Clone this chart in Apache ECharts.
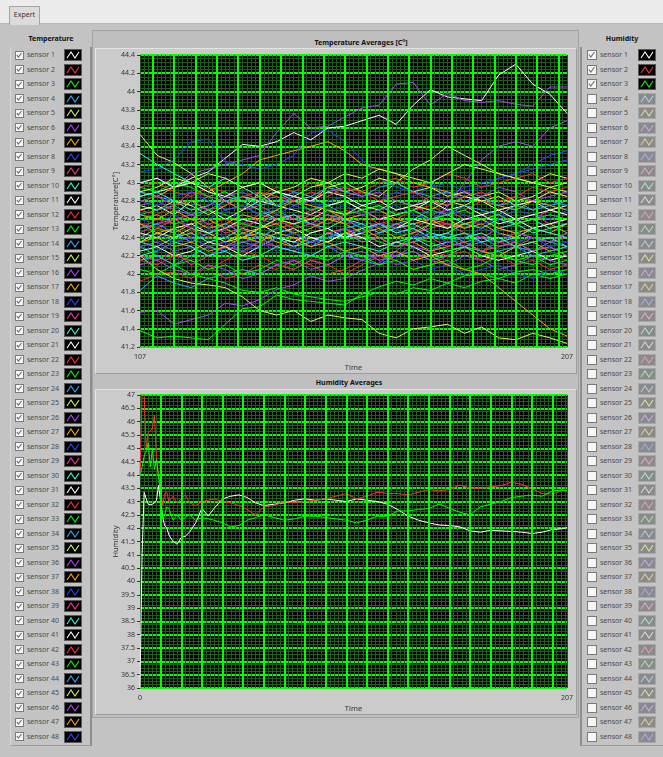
<!DOCTYPE html>
<html><head><meta charset="utf-8">
<script src="https://cdn.jsdelivr.net/npm/echarts@6/dist/echarts.min.js"></script>
<style>
body{margin:0;width:663px;height:757px;overflow:hidden;background:#c3c3c3;font-family:'Noto Sans',sans-serif;position:relative}
.a{position:absolute;box-sizing:border-box}
.t{font-size:7px;font-weight:bold;color:#111;white-space:nowrap}
.row{position:absolute;height:14px;line-height:14px;font-size:7px;color:#4a4a4a;white-space:nowrap}
</style></head><body>
<div class="a" style="left:0;top:0;width:663px;height:24px;background:#ececec;border-bottom:1px solid #b8b8b8"></div>
<div class="a" style="left:9px;top:6px;width:31px;height:19px;background:#dcdcdc;border:1px solid #a5a5a5;border-bottom:none;font-size:7px;line-height:16px;text-align:center;color:#333">Expert</div>
<div class="a t" style="left:10px;top:34px;width:82px;text-align:center">Temperature</div>
<div class="a t" style="left:582px;top:34px;width:80px;text-align:center">Humidity</div>
<div class="a" id="leftBox" style="left:10px;top:47px;width:82px;height:699px;background:#c4c4c4;border-left:1px solid #d8d8d8;border-right:2px solid #8e8e8e;border-bottom:1px solid #9a9a9a"></div>
<div class="a" id="rightBox" style="left:580px;top:47px;width:83px;height:699px;background:#c4c4c4;border-left:2px solid #8e8e8e;border-bottom:1px solid #9a9a9a"></div>
<div class="a" style="left:92px;top:30px;width:487px;height:688px;background:#bfbfbf;border:1px solid #a2a2a2"></div>
<div class="a" style="left:95px;top:48px;width:482px;height:326px;background:#cbcbcb;border-top:1px solid #e4e4e4;border-left:1px solid #e4e4e4;border-right:1px solid #9c9c9c;border-bottom:1px solid #9c9c9c"></div>
<div class="a" style="left:95px;top:389px;width:482px;height:326px;background:#cbcbcb;border-top:1px solid #e4e4e4;border-left:1px solid #e4e4e4;border-right:1px solid #9c9c9c;border-bottom:1px solid #9c9c9c"></div>
<div class="a t" style="left:261px;top:38px;width:200px;text-align:center">Temperature Averages [C°]</div>
<div class="a t" style="left:249px;top:378px;width:200px;text-align:center">Humidity Averages</div>
<div id="rows"></div>
<div id="chart" class="a" style="left:0;top:0;width:663px;height:757px;z-index:5"></div>
<script>
// ---------- data ----------
const TEMP_X = [107,111,115,119,123,127,131,135,139,143,147,151,155,159,163,167,171,175,179,183,187,191,195,199,203,207];
const temp01 = [42.85,42.9,42.95,43.05,43.12,43.27,43.42,43.4,43.45,43.55,43.47,43.6,43.62,43.68,43.74,43.64,43.85,44.02,43.94,43.92,43.9,44.18,44.3,44.08,43.97,43.76];
const temp02 = [41.92,42.0,42.02,41.95,42.1,41.95,42.0,42.1,42.05,42.15,42.1,42.0,42.05,42.15,42.2,42.1,42.15,42.25,42.2,42.3,42.25,42.35,42.3,42.4,42.35,42.45];
const temp03 = [41.38,41.3,41.32,41.3,41.28,41.45,41.62,41.64,41.77,41.72,41.7,41.68,41.66,41.78,41.86,41.92,41.88,41.95,41.9,41.98,42.0,41.95,42.02,42.05,42.0,42.05];
const temp04 = [41.82,41.98,41.9,41.85,41.95,42.0,42.05,42.0,42.1,42.05,42.15,42.1,42.2,42.15,42.1,42.2,42.25,42.15,42.2,42.3,42.25,42.2,42.3,42.25,42.35,42.3];
const temp05 = [43.53,43.3,43.22,43.1,42.95,42.8,42.7,42.9,42.75,42.85,42.8,42.95,43.0,42.9,42.85,43.0,43.15,43.25,43.4,43.3,43.2,43.1,43.05,43.0,43.1,43.05];
const temp06 = [43.0,43.05,42.95,43.1,43.15,43.2,43.25,43.3,43.55,43.76,43.6,43.62,43.72,43.82,43.85,44.08,44.1,43.85,43.98,43.9,43.88,43.9,43.86,43.84,44.05,44.05];
const temp07 = [42.9,42.85,42.95,43.0,42.9,43.0,43.1,43.25,43.3,43.35,43.4,43.45,43.35,43.2,43.15,43.1,43.0,42.95,42.9,42.85,42.8,42.75,42.7,42.8,42.75,42.7];
const temp08 = [43.12,43.15,43.25,43.45,43.48,43.22,43.2,43.15,43.2,43.3,43.55,43.58,43.45,43.25,43.05,42.95,42.9,43.0,42.85,42.95,43.0,43.05,43.1,43.15,43.2,43.25];
const temp09 = [42.2,42.15,42.25,42.1,42.2,42.3,42.25,42.35,42.3,42.4,42.35,42.45,42.5,42.4,42.45,42.55,42.5,42.6,42.55,42.5,42.6,42.65,42.55,42.6,42.7,42.65];
const temp10 = [43.32,43.2,43.1,43.0,42.95,43.05,42.95,42.85,42.9,42.8,42.85,42.75,42.8,42.7,42.75,42.65,42.7,42.6,42.65,42.55,42.6,42.5,42.55,42.6,42.5,42.55];
const temp11 = [42.7,42.75,42.65,42.8,42.7,42.6,42.7,42.8,42.75,42.7,42.65,42.75,42.8,42.7,42.6,42.65,42.7,42.8,42.75,42.85,42.8,42.7,42.75,42.8,42.7,42.75];
const temp12 = [42.5,42.6,42.55,42.45,42.55,42.6,42.5,42.4,42.5,42.55,42.65,42.6,42.7,42.65,42.55,42.6,42.7,42.75,42.65,42.7,42.8,42.75,42.85,42.8,42.9,42.85];
const temp13 = [42.3,42.2,42.1,42.0,41.95,41.9,41.82,41.8,41.85,41.78,41.75,41.72,41.7,41.75,41.8,41.78,41.85,41.82,41.9,41.85,41.92,41.95,41.9,42.0,41.95,42.0];
const temp14 = [42.9,42.85,42.8,42.75,42.85,42.7,42.75,42.65,42.7,42.6,42.55,42.65,42.6,42.5,42.55,42.45,42.5,42.4,42.45,42.35,42.4,42.3,42.35,42.25,42.3,42.2];
const temp15 = [42.2,42.05,41.95,41.9,41.88,41.85,41.75,41.6,41.55,41.6,41.48,41.55,41.52,41.5,41.35,41.3,41.4,41.42,41.45,41.35,41.42,41.3,41.28,41.35,41.3,41.24];
const temp16 = [41.58,41.6,41.45,41.5,41.55,41.68,41.65,41.72,41.83,41.88,41.98,41.92,41.95,42.04,42.12,42.25,42.4,42.55,42.75,43.0,43.25,43.4,43.45,43.4,43.6,43.68];
const temp17 = [42.4,42.5,42.45,42.55,42.6,42.5,42.4,42.45,42.35,42.3,42.4,42.35,42.45,42.5,42.4,42.3,42.35,42.25,42.3,42.35,42.25,42.2,42.3,42.35,42.25,42.3];
const temp18 = [42.6,42.55,42.65,42.5,42.6,42.7,42.6,42.55,42.65,42.75,42.7,42.8,42.85,42.75,42.8,42.9,42.85,42.95,43.0,42.9,42.95,43.05,43.1,43.2,43.3,43.35];
const temp19 = [42.8,42.85,42.75,42.9,42.85,42.8,42.7,42.75,42.65,42.6,42.7,42.65,42.55,42.6,42.5,42.55,42.45,42.5,42.55,42.45,42.4,42.5,42.45,42.4,42.35,42.4];
const temp20 = [42.35,42.3,42.4,42.45,42.35,42.4,42.5,42.45,42.4,42.3,42.35,42.45,42.4,42.5,42.55,42.45,42.5,42.4,42.45,42.55,42.5,42.6,42.55,42.45,42.5,42.55];
const temp21 = [42.45,42.4,42.5,42.55,42.45,42.5,42.6,42.55,42.45,42.5,42.4,42.35,42.45,42.4,42.3,42.35,42.3,42.2,42.25,42.3,42.2,42.15,42.2,42.25,42.15,42.2];
const temp22 = [42.95,43.0,42.9,42.85,42.95,42.9,42.8,42.85,42.95,42.9,43.0,42.95,42.85,42.9,43.0,43.05,42.95,43.0,43.1,43.05,42.95,43.0,43.05,43.1,43.0,43.05];
const temp23 = [42.6,42.65,42.55,42.6,42.7,42.65,42.55,42.5,42.6,42.55,42.45,42.5,42.4,42.45,42.35,42.3,42.4,42.35,42.25,42.3,42.2,42.25,42.15,42.2,42.1,42.15];
const temp24 = [42.15,42.2,42.1,42.2,42.3,42.25,42.35,42.3,42.4,42.35,42.3,42.4,42.45,42.35,42.4,42.3,42.35,42.45,42.4,42.3,42.35,42.25,42.3,42.2,42.25,42.3];
const temp25 = [42.75,42.7,42.8,42.75,42.65,42.75,42.85,42.8,42.9,42.85,42.95,43.0,42.9,42.95,43.05,43.0,42.9,42.95,42.85,42.9,42.8,42.85,42.75,42.8,42.9,42.85];
const temp26 = [42.3,42.35,42.25,42.3,42.2,42.3,42.35,42.4,42.3,42.25,42.35,42.3,42.2,42.25,42.15,42.2,42.25,42.15,42.1,42.2,42.15,42.05,42.1,42.2,42.15,42.1];
const temp27 = [42.65,42.6,42.7,42.6,42.5,42.55,42.65,42.6,42.7,42.8,42.75,42.7,42.6,42.65,42.7,42.6,42.55,42.6,42.5,42.55,42.6,42.5,42.45,42.5,42.55,42.45];
const temp28 = [42.4,42.45,42.35,42.4,42.5,42.4,42.3,42.35,42.25,42.3,42.2,42.3,42.25,42.15,42.2,42.1,42.15,42.05,42.1,42.0,42.05,42.1,42.0,41.95,42.05,42.0];
const temp29 = [42.55,42.5,42.6,42.65,42.55,42.45,42.5,42.6,42.55,42.65,42.6,42.55,42.65,42.7,42.6,42.7,42.75,42.65,42.7,42.6,42.65,42.7,42.6,42.65,42.55,42.6];
const temp30 = [42.85,42.9,42.8,42.7,42.75,42.85,42.8,42.7,42.6,42.65,42.55,42.5,42.6,42.55,42.45,42.5,42.55,42.45,42.4,42.45,42.35,42.4,42.3,42.35,42.4,42.3];
const temp31 = [42.25,42.3,42.2,42.25,42.35,42.3,42.2,42.3,42.4,42.35,42.45,42.5,42.4,42.45,42.55,42.5,42.6,42.55,42.5,42.6,42.65,42.55,42.6,42.5,42.55,42.6];
const temp32 = [42.15,42.1,42.2,42.15,42.05,42.15,42.25,42.2,42.1,42.05,42.15,42.1,42.0,42.1,42.2,42.15,42.05,42.1,42.2,42.25,42.15,42.2,42.1,42.15,42.05,42.1];
const temp33 = [42.95,42.9,43.0,42.95,42.85,42.9,42.8,42.85,42.75,42.8,42.7,42.75,42.65,42.7,42.75,42.65,42.7,42.6,42.65,42.7,42.6,42.65,42.55,42.6,42.65,42.6];
const temp34 = [42.65,42.7,42.75,42.65,42.7,42.8,42.85,42.75,42.8,42.9,42.85,42.95,42.9,42.85,42.95,43.0,42.9,42.85,42.9,42.8,42.85,42.75,42.8,42.7,42.75,42.8];
const temp35 = [42.35,42.45,42.4,42.5,42.45,42.35,42.4,42.5,42.6,42.55,42.6,42.7,42.65,42.75,42.7,42.8,42.75,42.7,42.8,42.75,42.85,42.9,42.8,42.85,42.95,42.9];
const temp36 = [42.75,42.8,42.7,42.65,42.75,42.85,42.9,42.8,42.85,42.75,42.8,42.9,42.95,42.85,42.9,42.8,42.75,42.85,42.8,42.9,42.85,42.95,42.9,42.8,42.85,42.9];
const temp37 = [42.55,42.45,42.5,42.4,42.3,42.35,42.45,42.5,42.55,42.45,42.5,42.6,42.55,42.45,42.5,42.4,42.45,42.55,42.6,42.5,42.55,42.45,42.4,42.5,42.45,42.55];
const temp38 = [42.8,42.75,42.85,42.9,42.8,42.7,42.75,42.65,42.75,42.85,42.8,42.7,42.75,42.65,42.7,42.75,42.65,42.6,42.7,42.65,42.55,42.6,42.7,42.65,42.6,42.7];
const temp39 = [42.45,42.55,42.6,42.5,42.4,42.5,42.55,42.65,42.6,42.5,42.55,42.45,42.5,42.35,42.4,42.3,42.35,42.4,42.3,42.35,42.25,42.3,42.35,42.25,42.3,42.2];
const temp40 = [42.2,42.25,42.35,42.3,42.2,42.25,42.15,42.2,42.3,42.25,42.2,42.3,42.35,42.3,42.25,42.35,42.4,42.3,42.35,42.4,42.45,42.35,42.4,42.5,42.45,42.4];
const temp41 = [43.0,43.05,42.95,43.0,42.9,42.85,42.95,43.0,42.9,42.85,42.8,42.9,42.85,42.75,42.8,42.7,42.75,42.8,42.7,42.75,42.65,42.7,42.6,42.65,42.7,42.65];
const temp42 = [42.7,42.65,42.75,42.8,42.7,42.75,42.85,42.9,42.85,42.8,42.9,42.85,42.95,42.9,42.8,42.85,42.9,42.8,42.75,42.85,42.9,42.8,42.85,42.95,42.9,42.95];
const temp43 = [42.05,42.0,42.1,42.15,42.05,42.1,42.0,42.05,42.15,42.1,42.2,42.15,42.25,42.2,42.1,42.15,42.05,42.1,42.15,42.05,42.1,42.2,42.15,42.1,42.2,42.25];
const temp44 = [42.5,42.55,42.45,42.35,42.45,42.55,42.45,42.4,42.5,42.45,42.35,42.4,42.5,42.55,42.45,42.55,42.6,42.7,42.65,42.75,42.7,42.65,42.75,42.7,42.8,42.75];
const temp45 = [42.9,42.95,43.05,43.0,43.1,43.05,42.95,43.0,42.9,42.95,43.05,43.0,43.1,43.05,43.15,43.1,43.05,43.0,43.1,43.2,43.15,43.1,43.05,43.0,42.95,43.0];
const temp46 = [42.1,42.15,42.05,42.0,42.1,42.05,41.95,42.0,42.1,42.15,42.05,42.1,42.2,42.15,42.25,42.2,42.3,42.25,42.35,42.3,42.4,42.35,42.45,42.4,42.35,42.45];
const temp47 = [42.35,42.4,42.3,42.35,42.25,42.3,42.4,42.35,42.45,42.4,42.3,42.35,42.25,42.3,42.2,42.25,42.15,42.2,42.1,42.05,42.0,41.85,41.7,41.55,41.4,41.32];
const temp48 = [42.3,42.25,42.35,42.4,42.3,42.35,42.25,42.3,42.4,42.45,42.35,42.4,42.5,42.45,42.55,42.5,42.4,42.45,42.35,42.4,42.5,42.45,42.35,42.4,42.3,42.35];

const HUM_X = [0,1,2,3,4,5,6,7,8,9,10,11,12,13,14,16,18,20,22,24,27,30,33,36,40,44,48,52,56,60,65,70,75,80,85,90,95,100,105,110,115,120,125,130,135,140,145,150,155,160,165,170,175,180,185,190,195,200,205,207];
const hum1 = [36.0,41.0,43.35,43.1,42.9,42.88,42.9,42.95,43.05,43.6,43.0,42.4,42.1,42.0,41.75,41.5,41.4,41.65,41.7,41.85,42.2,42.75,42.45,42.75,43.1,43.2,43.25,43.15,42.95,42.85,42.9,42.95,43.05,43.1,43.05,43.1,43.05,43.0,43.1,43.05,43.0,42.9,42.7,42.45,42.3,42.2,42.12,42.1,42.05,41.9,41.85,41.92,41.9,41.88,41.85,41.8,41.85,41.95,41.98,42.02];
const hum2 = [44.0,47.0,47.0,45.0,45.6,45.65,45.75,46.25,44.6,44.0,43.5,42.85,43.3,43.35,43.0,43.2,42.95,43.1,43.25,42.95,42.85,43.0,43.05,43.1,43.0,42.95,42.85,42.7,42.5,42.8,42.85,43.0,42.95,43.0,43.05,43.1,43.2,43.3,43.1,43.2,43.35,43.3,43.3,43.25,43.35,43.45,43.4,43.45,43.62,43.5,43.5,43.55,43.6,43.72,43.65,43.48,43.3,43.28,43.42,43.38];
const hum3 = [43.95,44.3,44.7,44.9,45.2,44.3,45.0,44.2,44.6,43.9,43.3,42.35,42.5,42.8,42.75,42.3,42.5,42.3,42.4,42.5,42.3,42.4,42.35,42.3,42.2,42.05,42.1,42.3,42.4,42.5,42.4,42.3,42.35,42.45,42.45,42.4,42.35,42.3,42.2,42.3,42.45,42.45,42.65,42.65,42.7,42.74,42.9,42.75,42.6,42.5,42.8,42.9,43.0,43.15,43.2,43.24,43.2,43.4,43.43,43.4];

// ---------- style ----------
const SENSOR_COLORS = ['#ffffff','#ff3333','#00ff00','#33aaff','#ccff55','#b044ff','#ffaa00','#3344ff','#ff3399','#33ffdd'];
const PALE_COLORS = ['#d8d8d8','#e0a0a8','#a8e0a8','#a8d0e8','#dcdca0','#c8a8e8','#e0cc98','#a8a8e8','#e0a8c8','#a8e0d8'];
const MAJOR = '#00ff00', MINOR = '#1d5e1d', AXISTXT = '#333';
const TEMP_SERIES = [temp01,temp02,temp03,temp04,temp05,temp06,temp07,temp08,temp09,temp10,temp11,temp12,temp13,temp14,temp15,temp16,temp17,temp18,temp19,temp20,temp21,temp22,temp23,temp24,temp25,temp26,temp27,temp28,temp29,temp30,temp31,temp32,temp33,temp34,temp35,temp36,temp37,temp38,temp39,temp40,temp41,temp42,temp43,temp44,temp45,temp46,temp47,temp48];
const HUM_SERIES = [hum1,hum2,hum3];

// ---------- side lists ----------
const rows = document.getElementById('rows');
function icon(i, active){
  const bg = active ? '#000' : '#8a8a8a';
  const col = active ? SENSOR_COLORS[i % 10] : PALE_COLORS[i % 10];
  return `<svg width="18" height="12" style="position:absolute;top:1px"><rect x="0.5" y="0.5" width="17" height="11" fill="${bg}" stroke="${active?'#5a5a5a':'#a8a8a8'}"/><polyline points="3,9 7,3 11,9 15,3" fill="none" stroke="${col}" stroke-width="1.1"/></svg>`;
}
function box(size, checked){
  const chk = checked ? `<polyline points="1.8,${size/2} ${size*0.42},${size-2} ${size-1.5},2" fill="none" stroke="#6a6a6a" stroke-width="1.1"/>` : '';
  return `<svg width="${size+1}" height="${size+1}" style="position:absolute;top:${(14-size-1)/2}px"><rect x="0.5" y="0.5" width="${size}" height="${size}" fill="#f6f6f6" stroke="#7a7a7a"/>${chk}</svg>`;
}
let html = '';
for (let i = 0; i < 48; i++) {
  const cy = 55 + i * 14.5;
  html += `<div class="row" style="left:15px;top:${cy-7}px;width:75px">${box(8,true)}<span style="position:absolute;left:12px">sensor ${i+1}</span><span style="position:absolute;left:49px;top:0">${icon(i,true)}</span></div>`;
  const act = i < 3;
  html += `<div class="row" style="left:587px;top:${cy-7}px;width:75px">${box(9,act)}<span style="position:absolute;left:13px">sensor ${i+1}</span><span style="position:absolute;left:51px;top:0">${icon(i,act)}</span></div>`;
}
rows.innerHTML = html;

// ---------- chart ----------
const chart = echarts.init(document.getElementById('chart'), null, {renderer:'canvas'});
const major1 = []; for (let v = 110; v < 207; v += 5) major1.push({xAxis: v});
const major2 = []; for (let v = 10; v < 207; v += 10) major2.push({xAxis: v});
function gridLines(xi, data){
  return {type:'line', xAxisIndex:xi, yAxisIndex:xi, data:[], silent:true, z:1,
    markLine:{silent:true, animation:false, symbol:['none','none'], label:{show:false},
      lineStyle:{color:MAJOR, width:2, type:'solid'}, emphasis:{disabled:true}, data:data}};
}
const series = [gridLines(0, major1), gridLines(1, major2)];
TEMP_SERIES.forEach((arr, i) => {
  series.push({type:'line', name:'sensor '+(i+1), xAxisIndex:0, yAxisIndex:0, silent:true, z:3,
    showSymbol:false, symbol:'none', lineStyle:{width:1, color:SENSOR_COLORS[i%10]},
    data: TEMP_X.map((x, k) => [x, arr[k]])});
});
HUM_SERIES.forEach((arr, i) => {
  series.push({type:'line', name:'sensor '+(i+1), xAxisIndex:1, yAxisIndex:1, silent:true, z:3,
    showSymbol:false, symbol:'none', lineStyle:{width:1, color:SENSOR_COLORS[i%10]},
    data: HUM_X.map((x, k) => [x, arr[k]])});
});
const lbl = {fontSize:7, color:AXISTXT, fontFamily:'Noto Sans'};
const nameStyle = {fontSize:7.5, color:AXISTXT, fontFamily:'Noto Sans'};
chart.setOption({
  animation:false,
  grid:[
    {left:140, top:55, width:427, height:292, show:true, backgroundColor:'#000', borderWidth:0},
    {left:140, top:395, width:427, height:293, show:true, backgroundColor:'#000', borderWidth:0}
  ],
  xAxis:[
    {gridIndex:0, type:'value', min:107, max:207, interval:1,
     axisLine:{show:false}, axisTick:{show:false},
     axisLabel:Object.assign({margin:6, formatter:v => (v===107||v===207) ? String(v) : ''}, lbl),
     splitLine:{show:true, lineStyle:{color:MINOR, width:1}},
     name:'Time', nameLocation:'middle', nameGap:17, nameMoveOverlap:false, nameTextStyle:nameStyle},
    {gridIndex:1, type:'value', min:0, max:207, interval:2,
     axisLine:{show:false}, axisTick:{show:false},
     axisLabel:Object.assign({margin:6, formatter:v => (v===0||v===207) ? String(v) : ''}, lbl),
     splitLine:{show:true, lineStyle:{color:MINOR, width:1}},
     name:'Time', nameLocation:'middle', nameGap:17, nameMoveOverlap:false, nameTextStyle:nameStyle}
  ],
  yAxis:[
    {gridIndex:0, type:'value', min:41.2, max:44.4, interval:0.2,
     axisLine:{show:false}, axisTick:{show:true, length:3, lineStyle:{color:'#333'}},
     axisLabel:Object.assign({margin:5}, lbl),
     splitLine:{show:true, lineStyle:{color:MAJOR, width:2}},
     minorTick:{show:false, splitNumber:5}, minorSplitLine:{show:true, lineStyle:{color:MINOR, width:1}},
     name:'Temperature[C°]', nameLocation:'middle', nameRotate:90, nameGap:20, nameMoveOverlap:false, nameTextStyle:nameStyle},
    {gridIndex:1, type:'value', min:36, max:47, interval:0.5,
     axisLine:{show:false}, axisTick:{show:true, length:3, lineStyle:{color:'#333'}},
     axisLabel:Object.assign({margin:5}, lbl),
     splitLine:{show:true, lineStyle:{color:MAJOR, width:2}},
     minorTick:{show:false, splitNumber:4}, minorSplitLine:{show:true, lineStyle:{color:MINOR, width:1}},
     name:'Humidity', nameLocation:'middle', nameRotate:90, nameGap:20, nameMoveOverlap:false, nameTextStyle:nameStyle}
  ],
  series: series
});
</script>
</body></html>
